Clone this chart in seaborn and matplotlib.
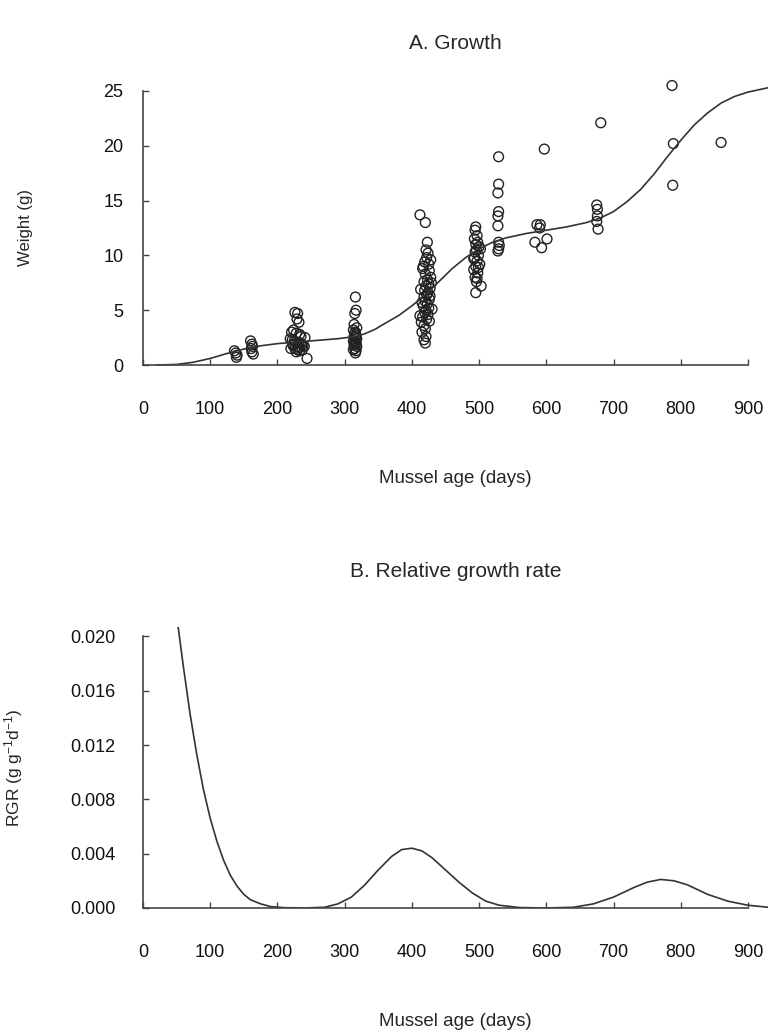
import numpy as np
import pandas as pd
import matplotlib.pyplot as plt
import seaborn as sns

# observed weights (g) by age cluster (days)
age_c1 = [136, 138, 140, 139]
wt_c1 = [1.3, 1.1, 0.9, 0.7]
age_c2 = [160, 162, 163, 161, 162, 164]
wt_c2 = [2.2, 1.9, 1.7, 1.5, 1.2, 1.0]
age_c3 = [226, 230, 229, 232, 224, 221, 228, 233, 235, 219, 222, 225, 227, 231, 234,
          236, 238, 223, 229, 232, 226, 220, 230, 237, 240, 233, 228, 244, 241, 224]
wt_c3 = [4.8, 4.7, 4.2, 3.9, 3.2, 3.0, 2.9, 2.8, 2.6, 2.4, 2.3, 2.2, 2.1, 2.0, 2.0,
         1.9, 1.8, 1.8, 1.7, 1.6, 1.5, 1.5, 1.4, 1.4, 1.7, 1.3, 1.2, 0.6, 2.5, 1.9]
age_c4 = [316, 317, 315, 314, 318, 313, 316, 315, 317, 314, 316, 318, 313, 315, 317,
          316, 314, 318, 315, 313, 317, 316]
wt_c4 = [6.2, 5.0, 4.7, 3.7, 3.4, 3.2, 3.0, 2.9, 2.7, 2.6, 2.5, 2.4, 2.2, 2.1, 2.0,
         1.9, 1.8, 1.7, 1.5, 1.4, 1.3, 1.1]
age_c5 = [412, 420, 423, 421, 424, 422, 419, 425, 417, 426, 420, 428, 423, 418, 425,
          421, 427, 419, 424, 422, 418, 426, 420, 423, 417, 425, 421, 419, 424, 416,
          422, 426, 418, 420, 415, 421, 418, 420, 429, 413, 427, 415, 430, 412, 416,
          428, 414]
wt_c5 = [13.7, 13.0, 11.2, 10.5, 10.2, 9.8, 9.4, 9.2, 9.0, 8.6, 8.3, 8.0, 7.8, 7.6, 7.4,
         7.2, 7.0, 6.8, 6.6, 6.4, 6.2, 6.0, 5.8, 5.6, 5.4, 5.2, 5.0, 4.8, 4.6, 4.4,
         4.2, 4.0, 3.6, 3.3, 3.0, 2.6, 2.3, 2.0, 7.5, 6.9, 6.3, 5.7, 5.1, 4.5, 8.8,
         9.6, 3.9]
age_c6 = [495, 494, 497, 493, 498, 495, 500, 496, 494, 499, 493, 497, 501, 495, 492,
          498, 494, 496, 503, 495, 502, 492, 499, 497]
wt_c6 = [12.6, 12.3, 11.8, 11.5, 11.2, 11.0, 10.8, 10.5, 10.3, 10.0, 9.8, 9.5, 9.2, 9.0, 8.7,
         8.4, 8.0, 7.6, 7.2, 6.6, 10.6, 9.7, 8.9, 7.9]
age_c7 = [529, 529, 528, 529, 528, 528, 529, 530, 529, 528]
wt_c7 = [19.0, 16.5, 15.7, 14.0, 13.6, 12.7, 11.2, 10.9, 10.6, 10.4]
age_c8 = [597, 586, 591, 590, 583, 601, 593]
wt_c8 = [19.7, 12.8, 12.8, 12.5, 11.2, 11.5, 10.7]
age_c9 = [681, 675, 676, 676, 675, 677]
wt_c9 = [22.1, 14.6, 14.2, 13.6, 13.1, 12.4]
age_c10 = [787, 789, 788, 860]
wt_c10 = [25.5, 20.2, 16.4, 20.3]

# fitted growth curve
fit_age = [20, 50, 75, 100, 125, 150, 175, 200, 230, 260, 290, 315, 330, 345, 360,
           380, 400, 420, 440, 460, 480, 500, 520, 540, 570, 600, 630, 660, 680, 700,
           720, 740, 760, 780, 800, 820, 840, 860, 880, 900, 930]
fit_wt = [0.0, 0.05, 0.25, 0.6, 1.05, 1.45, 1.75, 1.95, 2.1, 2.25, 2.4, 2.6, 2.85, 3.25, 3.8,
          4.5, 5.4, 6.4, 7.6, 8.8, 9.8, 10.6, 11.2, 11.6, 12.0, 12.3, 12.6, 13.0, 13.4, 14.0,
          14.9, 16.0, 17.4, 19.0, 20.5, 21.9, 23.0, 23.9, 24.5, 24.9, 25.3]

# relative growth rate curve
rgr_age = [52, 60, 70, 80, 90, 100, 110, 120, 130, 140, 150, 160, 175, 190, 210,
           240, 270, 290, 310, 330, 350, 370, 385, 400, 415, 430, 450, 470, 490, 510,
           530, 560, 600, 640, 670, 700, 730, 750, 770, 790, 810, 840, 870, 900, 930]
rgr_val = [0.0208, 0.0178, 0.0143, 0.0113, 0.0087, 0.0066, 0.0049, 0.0035, 0.0024, 0.0016,
           0.0010, 0.0006, 0.0003, 0.0001, 0.00002, 0.0, 0.00005, 0.0003, 0.0008, 0.0017,
           0.0028, 0.0038, 0.0043, 0.0044, 0.0042, 0.0037, 0.0028, 0.0019, 0.0011, 0.0005,
           0.0002, 0.00003, 0.0, 0.00005, 0.0003, 0.0008, 0.0015, 0.0019, 0.0021, 0.0020,
           0.0017, 0.0010, 0.0005, 0.0002, 0.00005]

obs = pd.DataFrame({
    "age": age_c1 + age_c2 + age_c3 + age_c4 + age_c5 + age_c6 + age_c7 + age_c8 + age_c9 + age_c10,
    "weight": wt_c1 + wt_c2 + wt_c3 + wt_c4 + wt_c5 + wt_c6 + wt_c7 + wt_c8 + wt_c9 + wt_c10,
})
fit = pd.DataFrame({"age": fit_age, "weight": fit_wt})
rgr = pd.DataFrame({"age": rgr_age, "rgr": rgr_val})

sns.set_style("ticks")
plt.rcParams['font.family'] = ['Liberation Sans', 'DejaVu Sans']
plt.rcParams['mathtext.fontset'] = 'custom'
plt.rcParams['mathtext.rm'] = 'Liberation Sans'
plt.rcParams['mathtext.it'] = 'Liberation Sans'

fig = plt.figure(figsize=(7.68, 10.34), dpi=100)
ax1 = fig.add_axes([0.1862, 0.6470, 0.814, 0.2650])
ax2 = fig.add_axes([0.1862, 0.1219, 0.814, 0.2718])

line_col = "#333333"

# A. growth
sns.lineplot(data=fit, x="age", y="weight", ax=ax1, color=line_col, lw=1.2, clip_on=False)
sns.scatterplot(data=obs, x="age", y="weight", ax=ax1, marker="o", s=50,
                facecolors="none", edgecolor="#222222", linewidth=1.0, clip_on=False)
ax1.set_xlim(0, 930)
ax1.set_ylim(0, 25)
ax1.set_yticks([0, 5, 10, 15, 20, 25])

# B. relative growth rate
sns.lineplot(data=rgr, x="age", y="rgr", ax=ax2, color=line_col, lw=1.2)
ax2.set_xlim(0, 930)
ax2.set_ylim(0, 0.0207)
ax2.set_yticks([0.0, 0.004, 0.008, 0.012, 0.016, 0.020])
ax2.set_yticklabels(["0.000", "0.004", "0.008", "0.012", "0.016", "0.020"])

for ax, ytop, ypad in [(ax1, 25, 14), (ax2, 0.020, 20)]:
    sns.despine(ax=ax)
    ax.spines["bottom"].set_bounds(0, 900)
    ax.spines["left"].set_bounds(0, ytop)
    for s in ("left", "bottom"):
        ax.spines[s].set_color("#444444")
        ax.spines[s].set_linewidth(1.2)
    ax.set_xticks(range(0, 1000, 100))
    ax.tick_params(axis="both", direction="in", length=4, width=1, color="#444444",
                   labelsize=13, labelcolor="#111111")
    ax.tick_params(axis="x", pad=26)
    ax.tick_params(axis="y", pad=ypad)

ax1.set_xlabel("Mussel age (days)", fontsize=13.5)
ax1.set_ylabel("Weight (g)", fontsize=12)
ax1.xaxis.set_label_coords(0.5, -0.383)
ax1.yaxis.set_label_coords(-0.176, 0.5)
ax1.text(0.5, 1.175, "A. Growth", transform=ax1.transAxes, ha="center", va="center", fontsize=15)

ax2.set_xlabel("Mussel age (days)", fontsize=13.5)
ax2.set_ylabel("RGR (g g$^{-1}$d$^{-1}$)", fontsize=12.5)
ax2.xaxis.set_label_coords(0.5, -0.374)
ax2.yaxis.set_label_coords(-0.189, 0.5)
ax2.text(0.5, 1.196, "B. Relative growth rate", transform=ax2.transAxes, ha="center", va="center", fontsize=15)

fig.savefig("out.png", dpi=100)
